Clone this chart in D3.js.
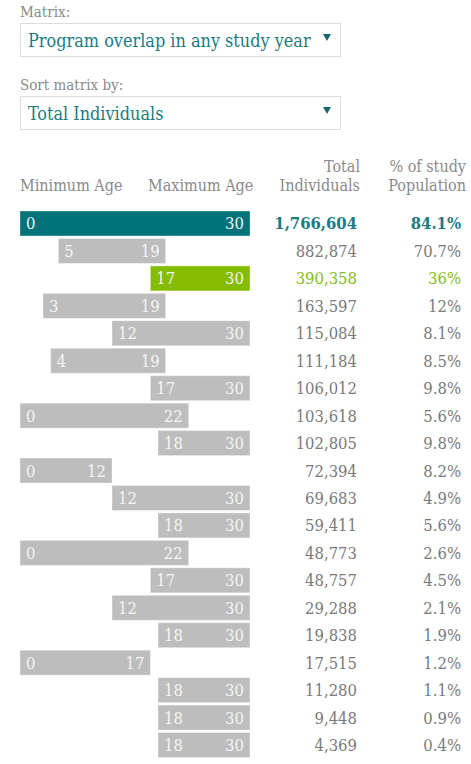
<!DOCTYPE html>
<html>
<head>
<meta charset="utf-8">
<script src="https://cdn.jsdelivr.net/npm/d3@7"></script>
<style>
  body { margin: 0; background: #fff; }
  text { font-family: "DejaVu Serif Condensed", "DejaVu Serif", serif; }
</style>
</head>
<body>
<div id="wrapper"></div>
<script>
// data
const minAge = [0, 5, 17, 3, 12, 4, 17, 0, 18, 0, 12, 18, 0, 17, 12, 18, 0, 18, 18, 18];
const maxAge = [30, 19, 30, 19, 30, 19, 30, 22, 30, 12, 30, 30, 22, 30, 30, 30, 17, 30, 30, 30];
const totals = [1766604, 882874, 390358, 163597, 115084, 111184, 106012, 103618, 102805, 72394,
  69683, 59411, 48773, 48757, 29288, 19838, 17515, 11280, 9448, 4369];
const pcts = [84.1, 70.7, 36, 12, 8.1, 8.5, 9.8, 5.6, 9.8, 8.2, 4.9, 5.6, 2.6, 4.5, 2.1, 1.9, 1.2, 1.1, 0.9, 0.4];
const highlight = { 0: 'teal', 2: 'green' };

const matrixOption = 'Program overlap in any study year';
const sortOption = 'Total Individuals';

const colors = {
  teal: '#00737a',
  green: '#85bc00',
  gray: '#bdbdbd',
  label: '#8a8a8a',
  num: '#7a7a7a',
  tealText: '#1a7b82',
  greenText: '#86bd1a'
};

const data = minAge.map((d, i) => ({
  min: d, max: maxAge[i], total: totals[i], pct: pcts[i], hl: highlight[i]
}));

const width = 471;
const height = 764;

const svg = d3.select('#wrapper').append('svg')
  .attr('width', width)
  .attr('height', height);

// dropdowns
function dropdown(label, value, y) {
  const g = svg.append('g').attr('transform', `translate(20, ${y})`);
  g.append('text')
    .attr('x', 0).attr('y', 0)
    .attr('fill', colors.label)
    .style('font-size', '15px')
    .text(label);
  g.append('rect')
    .attr('x', 0.5).attr('y', 6.5)
    .attr('width', 320).attr('height', 33)
    .attr('fill', '#fff')
    .attr('stroke', '#dcdcdc');
  g.append('text')
    .attr('x', 8).attr('y', 30)
    .attr('fill', colors.tealText)
    .style('font-size', '17.9px')
    .text(value);
  g.append('path')
    .attr('d', 'M303,17 L311,17 L307,24 Z')
    .attr('fill', '#14686e');
}
dropdown('Matrix:', matrixOption, 17);
dropdown('Sort matrix by:', sortOption, 90);

// scales
const xScale = d3.scaleLinear()
  .domain([0, 30])
  .range([20, 250]);

const yScale = d3.scaleBand()
  .domain(d3.range(data.length))
  .range([211, 757.5])
  .paddingInner(0.09);

// header
const head = svg.append('g')
  .attr('fill', colors.label)
  .style('font-size', '16px');
head.append('text').attr('x', 20).attr('y', 191).text('Minimum Age');
head.append('text').attr('x', 148).attr('y', 191).text('Maximum Age');
head.append('text').attr('x', 360).attr('y', 172).attr('text-anchor', 'end').text('Total');
head.append('text').attr('x', 360).attr('y', 191).attr('text-anchor', 'end').text('Individuals');
head.append('text').attr('x', 466).attr('y', 172).attr('text-anchor', 'end').text('% of study');
head.append('text').attr('x', 466).attr('y', 191).attr('text-anchor', 'end').text('Population');

// rows
const rows = svg.append('g').selectAll('g')
  .data(data)
  .join('g')
  .attr('transform', (d, i) => `translate(0, ${yScale(i)})`);

const bh = yScale.bandwidth();

rows.append('rect')
  .attr('x', d => xScale(d.min))
  .attr('width', d => xScale(d.max) - xScale(d.min))
  .attr('height', bh)
  .attr('fill', d => d.hl ? colors[d.hl] : colors.gray)
  .attr('stroke', 'rgba(255,255,255,0.35)')
  .attr('stroke-width', 1);

rows.append('text')
  .attr('x', d => xScale(d.min) + 6)
  .attr('y', bh / 2 + 6)
  .attr('fill', '#f4f4f4')
  .style('font-size', '16.5px')
  .text(d => d.min);

rows.append('text')
  .attr('x', d => xScale(d.max) - 6)
  .attr('y', bh / 2 + 6)
  .attr('text-anchor', 'end')
  .attr('fill', '#f4f4f4')
  .style('font-size', '16.5px')
  .text(d => d.max);

const numColor = d => d.hl === 'teal' ? colors.tealText : d.hl === 'green' ? colors.greenText : colors.num;
const fmt = d3.format(',');
const fmtPct = v => Number.isInteger(v) ? v + '%' : v.toFixed(1) + '%';

rows.append('text')
  .attr('x', 357)
  .attr('y', bh / 2 + 6)
  .attr('text-anchor', 'end')
  .attr('fill', numColor)
  .style('font-size', '16.5px')
  .style('font-weight', d => d.hl === 'teal' ? 'bold' : 'normal')
  .text(d => fmt(d.total));

rows.append('text')
  .attr('x', 461)
  .attr('y', bh / 2 + 6)
  .attr('text-anchor', 'end')
  .attr('fill', numColor)
  .style('font-size', '16.5px')
  .style('font-weight', d => d.hl === 'teal' ? 'bold' : 'normal')
  .text(d => fmtPct(d.pct));
</script>
</body>
</html>
